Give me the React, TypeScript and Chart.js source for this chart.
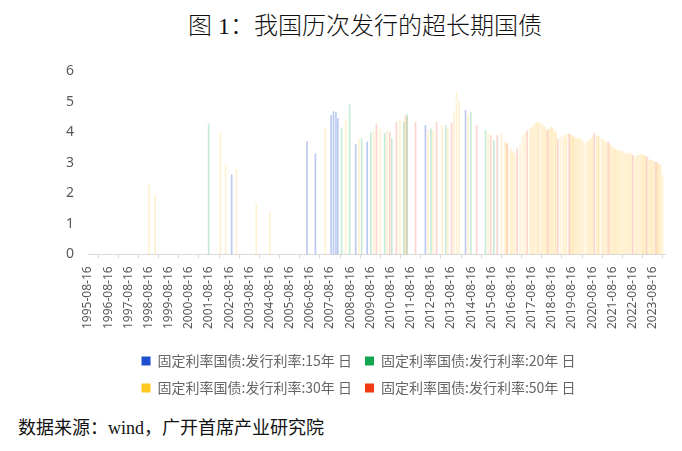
import { useEffect, useRef } from "react";
import { Chart, registerables } from "chart.js";

Chart.register(...registerables);

// 15年
const dates15 = [
  "2002-10-01", "2006-06-27", "2006-11-25", "2007-09-06", "2007-10-19", "2007-12-02",
  "2008-01-05", "2008-11-25", "2009-06-20", "2012-05-10", "2014-05-07"
];
const rates15 = [2.61, 3.7, 3.3, 4.55, 4.68, 4.66, 4.45, 3.6, 3.68, 4.23, 4.72];

// 20年
const dates20 = [
  "2001-08-10", "2008-03-13", "2008-08-07", "2009-03-13", "2009-08-28", "2010-05-03",
  "2010-09-09", "2011-04-15", "2011-06-13", "2012-08-18", "2013-05-14", "2014-08-10",
  "2015-05-03", "2015-10-01"
];
const rates20 = [4.28, 4.15, 4.9, 3.8, 3.99, 3.96, 3.8, 4.34, 4.6, 4.12, 4.23, 4.66, 4.06, 3.73];

// 30年
const dates30 = [
  "1998-08-25", "1998-12-15", "2002-03-13", "2002-06-13", "2002-12-25", "2003-12-20",
  "2004-08-21", "2007-05-25", "2008-05-25", "2009-01-20", "2009-10-19", "2010-02-07",
  "2010-06-16", "2011-02-03", "2011-05-03", "2012-06-27", "2012-09-27", "2013-03-09",
  "2013-06-20", "2013-10-12", "2013-11-25", "2014-01-12", "2014-06-24", "2015-06-20",
  "2016-02-21", "2016-04-20", "2016-05-22", "2016-07-20", "2016-08-18", "2016-09-17",
  "2016-10-19", "2017-01-20", "2017-03-08", "2017-04-20", "2017-07-15", "2017-08-15",
  "2017-09-12", "2017-10-12", "2017-11-14", "2017-12-10", "2018-01-05", "2018-02-14",
  "2018-03-14", "2018-04-12", "2018-05-08", "2018-07-01", "2018-07-27", "2018-08-18",
  "2018-09-12", "2018-10-12", "2018-10-30", "2019-01-20", "2019-03-11", "2019-04-12",
  "2019-05-11", "2019-07-20", "2019-08-11", "2019-09-02", "2019-09-20", "2019-10-19",
  "2019-11-10", "2019-12-10", "2020-01-08", "2020-02-07", "2020-03-14", "2020-04-27",
  "2020-06-06", "2020-07-01", "2020-07-27", "2020-08-25", "2020-11-06", "2020-12-02",
  "2020-12-24", "2021-02-07", "2021-03-08", "2021-04-05", "2021-05-08", "2021-07-01",
  "2021-07-23", "2021-08-22", "2021-09-16", "2021-10-12", "2021-11-03", "2021-12-02",
  "2022-01-01", "2022-01-30", "2022-03-03", "2022-04-01", "2022-05-04", "2022-06-02",
  "2022-07-01", "2022-07-30", "2022-10-01", "2022-10-30", "2022-11-28", "2023-01-01",
  "2023-01-30", "2023-02-21", "2023-03-18", "2023-04-09", "2023-06-02", "2023-07-01",
  "2023-07-23", "2023-08-18", "2023-09-16", "2023-11-07", "2023-11-25", "2023-12-16",
  "2024-01-08", "2024-02-14"
];
const rates30 = [
  2.26, 1.94, 4.0, 2.95, 2.8, 1.66,
  1.4, 4.15, 4.4, 3.8, 4.06, 4.1,
  4.04, 4.4, 4.55, 4.07, 4.07, 4.23,
  4.12, 4.66, 5.32, 5.0, 4.6, 3.95,
  3.95, 3.68, 3.63, 3.47, 3.4, 3.36,
  3.3, 3.55, 3.9, 3.98, 4.1, 4.15,
  4.2, 4.27, 4.31, 4.33, 4.33, 4.28,
  4.22, 4.17, 4.1, 4.12, 4.17, 4.15,
  4.12, 4.05, 4.0, 3.85, 3.84, 3.9,
  3.95, 3.92, 3.9, 3.87, 3.84, 3.82,
  3.79, 3.8, 3.81, 3.75, 3.66, 3.68,
  3.7, 3.75, 3.79, 3.86, 3.9, 3.87,
  3.84, 3.79, 3.75, 3.7, 3.66, 3.6,
  3.57, 3.52, 3.47, 3.45, 3.42, 3.4,
  3.39, 3.38, 3.36, 3.33, 3.3, 3.31,
  3.33, 3.28, 3.2, 3.22, 3.25, 3.26,
  3.27, 3.26, 3.25, 3.22, 3.14, 3.08,
  3.08, 3.08, 3.05, 3.0, 2.98, 2.95,
  2.92, 2.6
];

// 50年
const dates50 = [
  "2009-12-05", "2010-08-03", "2010-12-02", "2011-06-02", "2011-11-14", "2012-11-28",
  "2013-08-28", "2014-11-25", "2015-08-07", "2015-12-02", "2016-05-29", "2016-11-28",
  "2017-05-29", "2018-06-02", "2018-12-02", "2019-06-28", "2020-09-24", "2021-06-06",
  "2022-08-22", "2023-05-01", "2023-10-16"
];
const rates50 = [
  4.28, 4.0, 4.34, 4.5, 4.34, 4.34, 4.3, 4.23, 3.9, 3.9, 3.63, 3.46,
  4.06, 4.06, 3.79, 3.95, 3.95, 3.68, 3.25, 3.2, 3.03
];

const tickLabels = [
  "1995-08-16", "1996-08-16", "1997-08-16", "1998-08-16", "1999-08-16", "2000-08-16",
  "2001-08-16", "2002-08-16", "2003-08-16", "2004-08-16", "2005-08-16", "2006-08-16",
  "2007-08-16", "2008-08-16", "2009-08-16", "2010-08-16", "2011-08-16", "2012-08-16",
  "2013-08-16", "2014-08-16", "2015-08-16", "2016-08-16", "2017-08-16", "2018-08-16",
  "2019-08-16", "2020-08-16", "2021-08-16", "2022-08-16", "2023-08-16"
];
const axisEnd = "2024-03-28";

const seriesNames = [
  "固定利率国债:发行利率:15年 日",
  "固定利率国债:发行利率:20年 日",
  "固定利率国债:发行利率:30年 日",
  "固定利率国债:发行利率:50年 日"
];
const solidColors = ["#1f4fd1", "#12a650", "#ffc81e", "#f03a14"];
const barColors = [
  "rgba(31,79,209,0.3)",
  "rgba(18,166,80,0.24)",
  "rgba(255,185,30,0.2)",
  "rgba(240,58,20,0.22)"
];

function toYear(d: string): number {
  const [y, m, day] = d.split("-").map(Number);
  const start = Date.UTC(y, 0, 1);
  const end = Date.UTC(y + 1, 0, 1);
  return y + (Date.UTC(y, m - 1, day) - start) / (end - start);
}

function points(dates: string[], rates: number[]) {
  return dates.map((d, i) => ({ x: toYear(d), y: rates[i] }));
}

export default function App() {
  const canvasRef = useRef<HTMLCanvasElement | null>(null);

  useEffect(() => {
    const canvas = canvasRef.current;
    if (!canvas) return;

    const all = [
      points(dates15, rates15),
      points(dates20, rates20),
      points(dates30, rates30),
      points(dates50, rates50)
    ];

    const chart = new Chart(canvas, {
      type: "bar",
      data: {
        datasets: all.map((data, i) => ({
          label: seriesNames[i],
          data,
          backgroundColor: barColors[i],
          barThickness: 1,
          grouped: false
        }))
      },
      options: {
        animation: false,
        responsive: true,
        maintainAspectRatio: false,
        layout: { padding: { left: 52, right: 17, top: 3, bottom: 0 } },
        plugins: {
          tooltip: { enabled: false },
          legend: {
            position: "bottom",
            labels: {
              color: "#666666",
              font: { family: '"Noto Sans CJK SC", sans-serif', size: 14 },
              boxWidth: 9,
              boxHeight: 9,
              padding: 13,
              generateLabels: (c) =>
                c.data.datasets.map((ds, i) => ({
                  text: ds.label as string,
                  fillStyle: solidColors[i],
                  strokeStyle: solidColors[i],
                  lineWidth: 0,
                  fontColor: "#666666",
                  hidden: false,
                  datasetIndex: i
                }))
            }
          }
        },
        scales: {
          x: {
            type: "linear",
            offset: false,
            min: toYear(tickLabels[0]),
            max: toYear(axisEnd),
            afterBuildTicks: (axis) => {
              axis.ticks = tickLabels.map((l) => ({ value: toYear(l) }));
            },
            afterFit: (axis) => {
              axis.height += 4;
            },
            ticks: {
              autoSkip: false,
              minRotation: 90,
              maxRotation: 90,
              color: "#595959",
              padding: 8,
              font: { family: '"Noto Sans", sans-serif', size: 12 },
              callback: (_v, i) => tickLabels[i]
            },
            grid: { display: true, drawOnChartArea: false, drawTicks: true, tickLength: 4, color: "#d9d9d9" },
            border: { display: true, color: "#d9d9d9" }
          },
          y: {
            min: 0,
            max: 6,
            ticks: {
              stepSize: 1,
              color: "#595959",
              padding: 14,
              font: { family: '"Noto Sans", sans-serif', size: 14 }
            },
            grid: { display: false, drawTicks: false },
            border: { display: false }
          }
        }
      }
    });

    return () => chart.destroy();
  }, []);

  return (
    <div style={{ position: "fixed", left: 0, top: 0, width: 682, height: 451, background: "#fff" }}>
      <div
        style={{
          position: "absolute",
          left: 0,
          width: 730,
          top: 6,
          textAlign: "center",
          fontSize: 24,
          fontWeight: 300,
          fontFamily: '"Liberation Serif", "Noto Sans CJK SC", serif',
          color: "#111"
        }}
      >
        图 1：我国历次发行的超长期国债
      </div>
      <div style={{ position: "absolute", left: 0, top: 49, width: 682, height: 356 }}>
        <canvas ref={canvasRef} />
      </div>
      <div
        style={{
          position: "absolute",
          left: 18,
          top: 413,
          fontSize: 18,
          fontFamily: '"Liberation Serif", "Noto Sans CJK SC", serif',
          color: "#111"
        }}
      >
        数据来源：wind，广开首席产业研究院
      </div>
    </div>
  );
}
